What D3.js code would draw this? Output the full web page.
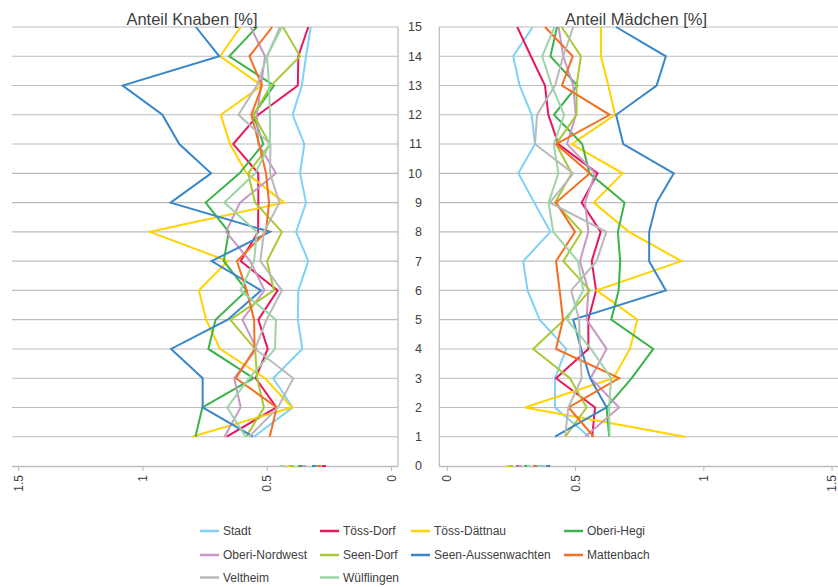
<!DOCTYPE html>
<html><head><meta charset="utf-8">
<script src="https://cdn.jsdelivr.net/npm/d3@7/dist/d3.min.js"></script>
<style>
html,body{margin:0;padding:0;background:#fff;}
svg{display:block;font-family:"Liberation Sans",Arial,sans-serif;}
</style></head>
<body>
<svg id="chart" width="838" height="587"></svg>
<script>
// ---------- DATA ----------
const ages = [1,2,3,4,5,6,7,8,9,10,11,12,13,14,15];
const districts = ["Stadt","Töss-Dorf","Töss-Dättnau","Oberi-Hegi","Oberi-Nordwest","Seen-Dorf","Seen-Aussenwachten","Mattenbach","Veltheim","Wülflingen"];
const colors = ["#7fd2f6","#e8175d","#ffd200","#3cb34a","#c897c6","#a6ca36","#3a87c8","#f36f21","#b9b9b9","#9cd4a8"];
const xTicks = [0, 0.5, 1, 1.5];
const yTicks = [0,1,2,3,4,5,6,7,8,9,10,11,12,13,14,15];

// Anteil Knaben [%], ages 1..15
const knabenStadt        = [0.551,0.396,0.474,0.357,0.375,0.373,0.333,0.382,0.342,0.366,0.349,0.396,0.359,0.342,0.323];
const knabenToessDorf    = [0.661,0.461,0.545,0.496,0.534,0.456,0.605,0.535,0.534,0.534,0.635,0.534,0.375,0.373,0.333];
const knabenToessDaett   = [0.802,0.398,0.507,0.688,0.744,0.773,0.657,0.970,0.430,0.581,0.648,0.685,0.520,0.688,0.605];
const knabenOberiHegi    = [0.787,0.759,0.553,0.735,0.706,0.581,0.673,0.653,0.746,0.610,0.514,0.554,0.471,0.651,0.540];
const knabenOberiNW      = [0.670,0.605,0.631,0.541,0.598,0.509,0.567,0.664,0.608,0.463,0.534,0.540,0.523,0.507,0.565];
const knabenSeenDorf     = [0.583,0.511,0.539,0.547,0.647,0.471,0.499,0.439,0.547,0.575,0.487,0.554,0.483,0.366,0.435];
const knabenSeenAussen   = [0.555,0.758,0.758,0.885,0.657,0.523,0.722,0.487,0.887,0.724,0.852,0.920,1.080,0.691,0.785];
const knabenMattenbach   = [0.488,0.460,0.624,0.549,0.551,0.581,0.620,0.503,0.491,0.503,0.531,0.562,0.519,0.570,0.478];
const knabenVeltheim     = [0.571,0.455,0.393,0.547,0.501,0.439,0.526,0.511,0.449,0.487,0.485,0.614,0.540,0.499,0.447];
const knabenWuelflingen  = [0.585,0.659,0.571,0.467,0.463,0.606,0.551,0.540,0.671,0.547,0.487,0.487,0.491,0.499,0.439];

// Anteil Mädchen [%], ages 1..15
const maedchenStadt       = [0.555,0.422,0.422,0.466,0.362,0.315,0.298,0.404,0.341,0.279,0.344,0.331,0.284,0.259,0.335];
const maedchenToessDorf   = [0.567,0.578,0.426,0.552,0.552,0.582,0.565,0.600,0.526,0.588,0.435,0.396,0.383,0.328,0.275];
const maedchenToessDaett  = [0.928,0.305,0.649,0.714,0.743,0.584,0.915,0.710,0.573,0.686,0.487,0.656,0.630,0.601,0.601];
const maedchenOberiHegi   = [0.633,0.623,0.721,0.805,0.641,0.670,0.676,0.667,0.693,0.556,0.528,0.418,0.509,0.404,0.430];
const maedchenOberiNW     = [0.539,0.672,0.561,0.623,0.545,0.552,0.519,0.552,0.539,0.578,0.469,0.503,0.493,0.454,0.436];
const maedchenSeenDorf    = [0.462,0.545,0.480,0.337,0.458,0.558,0.454,0.526,0.422,0.487,0.426,0.506,0.506,0.523,0.448];
const maedchenSeenAussen  = [0.422,0.623,0.559,0.524,0.493,0.854,0.789,0.789,0.818,0.885,0.688,0.660,0.818,0.854,0.660];
const maedchenMattenbach  = [0.573,0.475,0.672,0.426,0.453,0.440,0.426,0.500,0.426,0.558,0.426,0.635,0.449,0.491,0.383];
const maedchenVeltheim    = [0.461,0.474,0.526,0.519,0.516,0.485,0.584,0.622,0.402,0.493,0.344,0.352,0.422,0.454,0.493];
const maedchenWuelflingen = [0.635,0.633,0.641,0.562,0.469,0.532,0.511,0.415,0.397,0.435,0.417,0.458,0.409,0.372,0.420];

// age 0 values (tiny marks on the axis)
const knabenAge0   = [0.306,0.270,0.410,0.366,0.350,0.400,0.310,0.290,0.435,0.440];
const maedchenAge0 = [0.360,0.280,0.240,0.310,0.285,0.250,0.395,0.345,0.375,0.320];

const knaben = [knabenStadt,knabenToessDorf,knabenToessDaett,knabenOberiHegi,knabenOberiNW,knabenSeenDorf,knabenSeenAussen,knabenMattenbach,knabenVeltheim,knabenWuelflingen];
const maedchen = [maedchenStadt,maedchenToessDorf,maedchenToessDaett,maedchenOberiHegi,maedchenOberiNW,maedchenSeenDorf,maedchenSeenAussen,maedchenMattenbach,maedchenVeltheim,maedchenWuelflingen];

// ---------- LAYOUT ----------
const svg = d3.select("#chart");
const yTop = 27, yBot = 466;
const y = d3.scaleLinear().domain([0,15]).range([yBot, yTop]);
const xL = d3.scaleLinear().domain([1.525,-0.028]).range([12, 398]);
const xR = d3.scaleLinear().domain([-0.029,1.525]).range([439.3, 838]);
const gridColor = "#bdbdbd";
const textColor = "#404040";

function panel(x, data, age0, axisX, title, titleX){
  const g = svg.append("g");
  const [x0, x1] = x.range();
  // gridlines
  g.selectAll("line.grid").data(yTicks.filter(d=>d>0)).join("line")
    .attr("x1", x0).attr("x2", x1)
    .attr("y1", d=>y(d)).attr("y2", d=>y(d))
    .attr("stroke", gridColor).attr("stroke-width", 1.1);
  // vertical axis line
  g.append("line").attr("x1", axisX).attr("x2", axisX).attr("y1", yTop).attr("y2", yBot+0.5)
    .attr("stroke", gridColor).attr("stroke-width", 1.3);
  // bottom axis
  const ax = g.append("g").attr("transform", `translate(0,${yBot})`)
    .call(d3.axisBottom(x).tickValues(xTicks).tickSize(5).tickSizeOuter(0).tickFormat(d=>String(d)));
  ax.select(".domain").attr("stroke", gridColor).attr("stroke-width", 1.3).attr("d", `M${x0},0.5H${x1}`);
  ax.selectAll(".tick line").attr("stroke", gridColor).attr("stroke-width", 1.1);
  ax.selectAll(".tick text")
    .attr("fill", textColor).attr("font-size", 12)
    .attr("font-family", '"Liberation Sans",Arial,sans-serif')
    .attr("transform", "rotate(-90)")
    .attr("text-anchor", "end")
    .attr("x", -9).attr("y", 0).attr("dy", "0.35em");
  // series lines
  const line = d3.line().x(d=>x(d[1])).y(d=>y(d[0]));
  data.forEach((vals, i) => {
    g.append("path")
      .datum(ages.map((a,j)=>[a, vals[j]]))
      .attr("d", line)
      .attr("fill","none").attr("stroke", colors[i]).attr("stroke-width", 2)
      .attr("stroke-linejoin","miter");
  });
  // age 0 marks
  g.selectAll("line.zero").data(age0).join("line")
    .attr("x1", d=>x(d)-2).attr("x2", d=>x(d)+2)
    .attr("y1", y(0)).attr("y2", y(0))
    .attr("stroke", (d,i)=>colors[i]).attr("stroke-width", 2);
  // title
  svg.append("text").attr("x", titleX).attr("y", 25).attr("text-anchor","middle")
    .attr("font-size", 16.5).attr("fill", textColor).text(title);
}

panel(xL, knaben, knabenAge0, 398, "Anteil Knaben [%]", 192);
panel(xR, maedchen, maedchenAge0, 439.3, "Anteil Mädchen [%]", 636);

// central age labels
svg.append("g").selectAll("text").data(yTicks).join("text")
  .attr("x", 422).attr("y", d=>y(d)).attr("dy","0.35em")
  .attr("text-anchor","end").attr("font-size", 12.5).attr("fill", textColor)
  .text(d=>d);

// legend
const legCols = [200, 320, 411, 564];
const legRows = [531, 555, 577.5];
const leg = svg.append("g");
districts.forEach((name, i) => {
  const cx = legCols[i % 4], cy = legRows[Math.floor(i / 4)];
  leg.append("line").attr("x1", cx).attr("x2", cx+19).attr("y1", cy).attr("y2", cy)
    .attr("stroke", colors[i]).attr("stroke-width", 2.5);
  leg.append("text").attr("x", cx+23).attr("y", cy).attr("dy","0.35em")
    .attr("font-size", 12).attr("fill", textColor).text(name);
});
</script>
</body></html>
